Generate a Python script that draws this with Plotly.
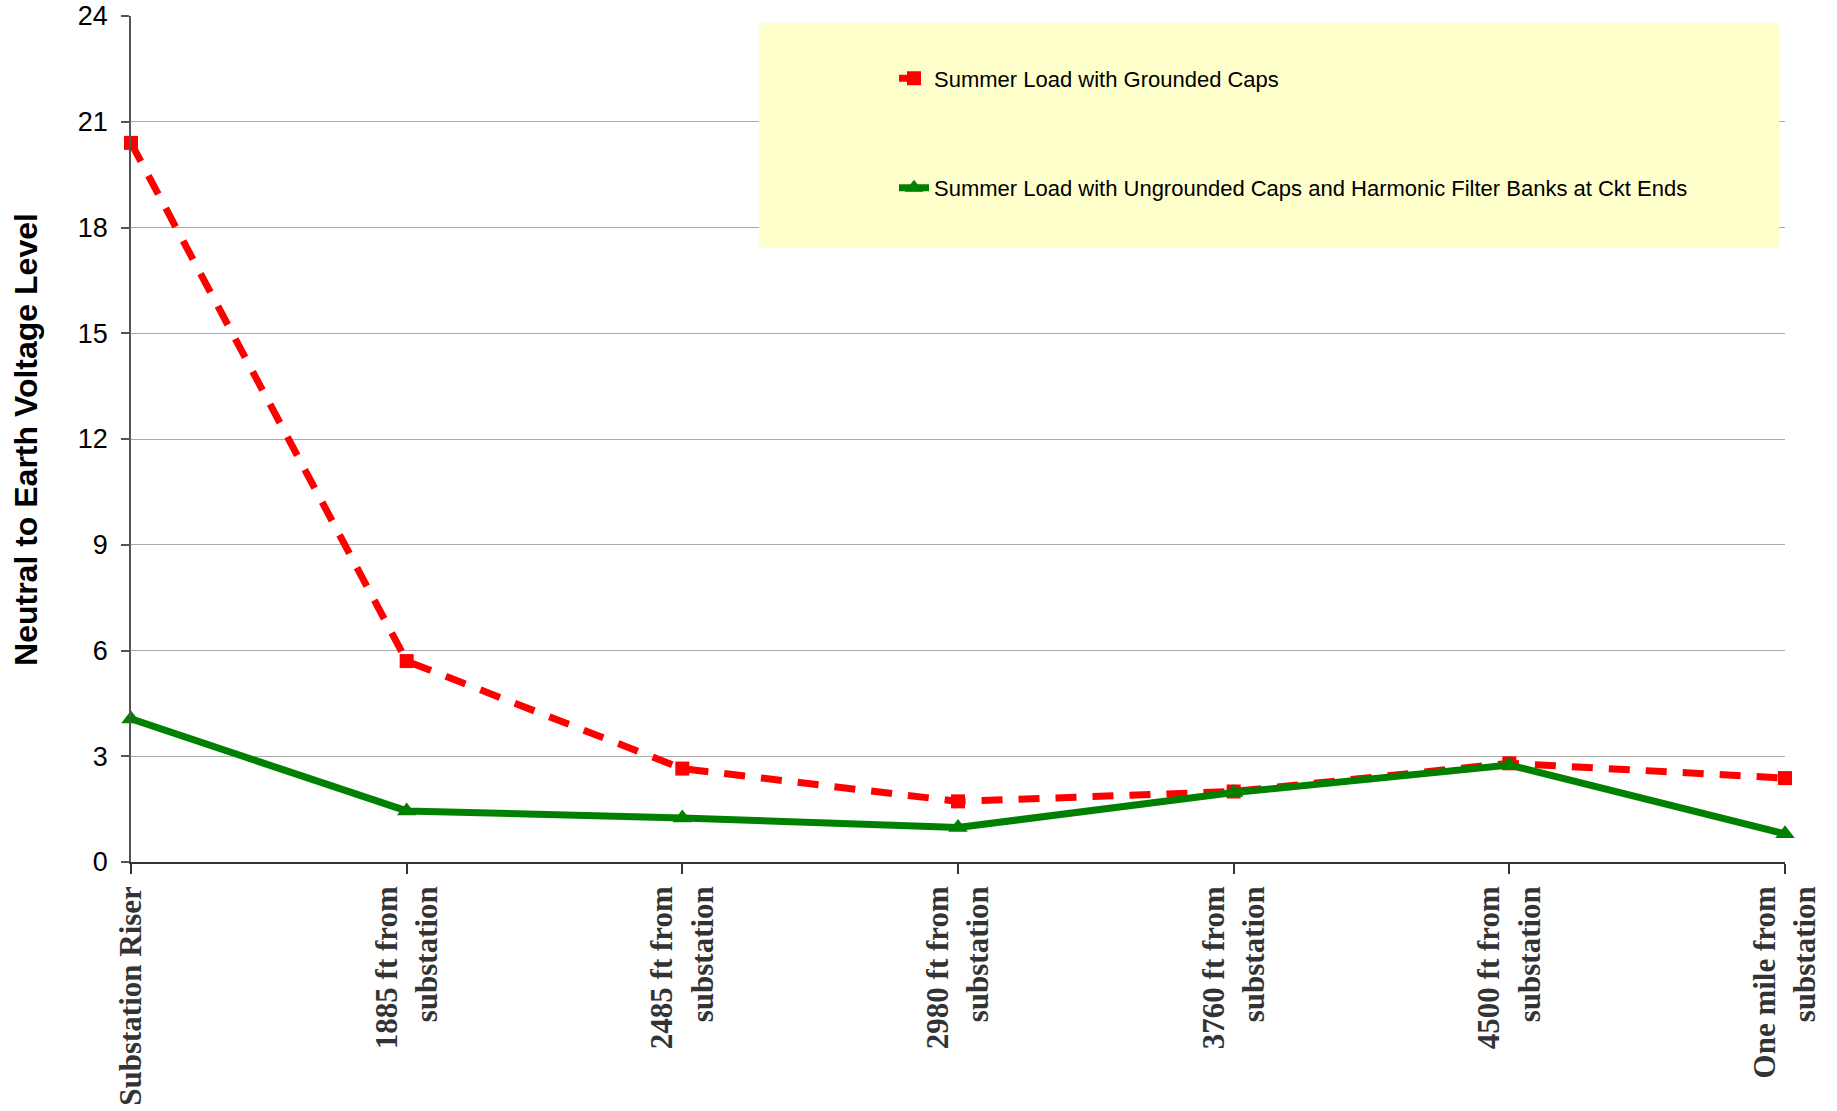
import plotly.graph_objects as go

# Measurement locations along the feeder
locations = [
    "Substation Riser",
    "1885 ft from<br>substation",
    "2485 ft from<br>substation",
    "2980 ft from<br>substation",
    "3760 ft from<br>substation",
    "4500 ft from<br>substation",
    "One mile from<br>substation",
]

# Neutral-to-earth voltage readings
grounded_caps = [20.4, 5.7, 2.65, 1.72, 2.0, 2.8, 2.38]
ungrounded_caps_filters = [4.06, 1.45, 1.25, 0.98, 1.97, 2.75, 0.8]

y_ticks = [0, 3, 6, 9, 12, 15, 18, 21, 24]

name_grounded = "Summer Load with Grounded Caps"
name_ungrounded = "Summer Load with Ungrounded Caps and Harmonic Filter Banks at Ckt Ends"

fig = go.Figure()

fig.add_trace(go.Scatter(
    x=list(range(len(locations))),
    y=grounded_caps,
    name=name_grounded,
    legendgroup="g1",
    mode="lines+markers",
    line=dict(color="#FF0000", width=7, dash="21px,16px"),
    marker=dict(symbol="square", size=14, color="#FF0000"),
    cliponaxis=False,
))

fig.add_trace(go.Scatter(
    x=list(range(len(locations))),
    y=ungrounded_caps_filters,
    name=name_ungrounded,
    legendgroup="g2",
    mode="lines+markers",
    line=dict(color="#008000", width=7),
    marker=dict(symbol="triangle-up", size=17, color="#008000"),
    cliponaxis=False,
))

# Legend panel background
fig.add_shape(
    type="rect", xref="paper", yref="paper",
    x0=0.3797, x1=0.9964, y0=0.7258, y1=0.9917,
    fillcolor="#FFFFCC", line=dict(width=0), layer="above",
)

fig.add_annotation(
    text="<b>Neutral to Earth Voltage Level</b>",
    xref="paper", yref="paper", x=-0.0635, y=0.5,
    xanchor="center", yanchor="middle", textangle=-90, showarrow=False,
    font=dict(family="Arial, Liberation Sans, sans-serif", size=32, color="#000000"),
)

fig.update_layout(
    width=1837, height=1111,
    margin=dict(l=131, r=52, t=16, b=249, autoexpand=False),
    paper_bgcolor="white", plot_bgcolor="white",
    showlegend=True,
    legend=dict(
        x=0.4613, y=0.951, xanchor="left", yanchor="top",
        bgcolor="rgba(0,0,0,0)", borderwidth=0,
        font=dict(family="Arial, Liberation Sans, sans-serif", size=22, color="#000000"),
        traceorder="grouped", tracegroupgap=78,
    ),
    font=dict(family="Arial, Liberation Sans, sans-serif", color="#000000"),
)

fig.update_xaxes(
    automargin=False,
    range=[0, len(locations) - 1],
    tickmode="array",
    tickvals=list(range(len(locations))),
    ticktext=locations,
    tickangle=-90,
    tickfont=dict(family="Liberation Serif, Times New Roman, serif", size=31,
                  color="#333333", weight="bold"),
    ticks="outside", ticklen=10, tickcolor="#333333", tickwidth=1.5,
    showline=True, linecolor="#333333", linewidth=1.5,
    showgrid=False, zeroline=False,
)

fig.update_yaxes(
    automargin=False,
    range=[0, 24],
    tickmode="array",
    tickvals=y_ticks,
    tickfont=dict(family="Arial, Liberation Sans, sans-serif", size=27, color="#000000"),
    ticks="outside", ticklen=8, tickcolor="#555555", tickwidth=1.5,
    ticklabelstandoff=8,
    showline=True, linecolor="#555555", linewidth=1.5,
    showgrid=True, gridcolor="#AAAAAA", gridwidth=1,
    zeroline=False,
)

fig.write_html("out.html")
